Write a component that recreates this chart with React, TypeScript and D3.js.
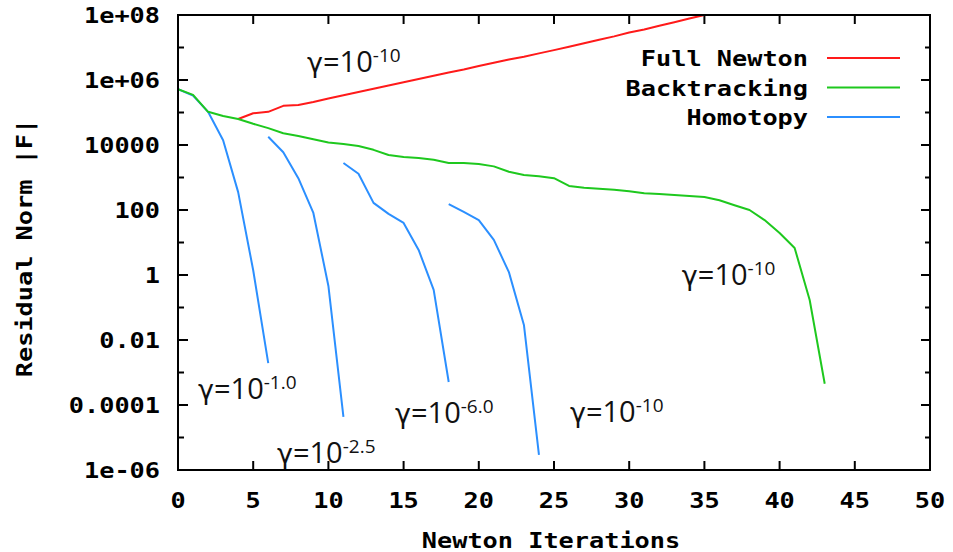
import React, { useEffect, useRef } from 'react';
import * as d3 from 'd3';

const W = 953;
const H = 552;
const plot = { left: 178, right: 930, top: 15, bottom: 470 };

// axis ticks
const xTicks = [0, 5, 10, 15, 20, 25, 30, 35, 40, 45, 50];
const yMajor = [1e-6, 1e-4, 1e-2, 1, 1e2, 1e4, 1e6, 1e8];
const yTickLabels = ['1e-06', '0.0001', '0.01', '1', '100', '10000', '1e+06', '1e+08'];
const yMinor = [1e-5, 1e-3, 1e-1, 1e1, 1e3, 1e5, 1e7];

// Full Newton, starts at iteration 4
const fullNewtonStart = 4;
const fullNewton = [
  6.3e4, 9.5e4, 1.05e5, 1.6e5, 1.7e5, 2.1e5, 2.7e5, 3.4e5, 4.3e5, 5.4e5, 6.8e5, 8.5e5,
  1.07e6, 1.35e6, 1.7e6, 2.1e6, 2.7e6, 3.4e6, 4.3e6, 5.2e6, 6.6e6, 8.3e6, 1.05e7, 1.35e7,
  1.74e7, 2.2e7, 2.9e7, 3.6e7, 4.7e7, 6.0e7, 7.8e7, 1.0e8,
];

// Backtracking, iterations 0..43
const backtrackingStart = 0;
const backtracking = [
  5.25e5, 3.5e5, 1.05e5, 7.8e4, 6.3e4, 4.5e4, 3.3e4, 2.3e4, 1.9e4, 1.5e4, 1.2e4, 1.07e4,
  9.3e3, 7.1e3, 4.9e3, 4.3e3, 4.0e3, 3.5e3, 2.8e3, 2.8e3, 2.6e3, 2.2e3, 1.5e3, 1.2e3,
  1.1e3, 950, 550, 480, 450, 420, 380, 330, 310, 290, 270, 250, 200, 140, 100, 49, 19.5,
  6.8, 0.17, 4.5e-4,
];

// Homotopy runs (one per gamma)
const homotopy1Start = 0;
const homotopy1 = [5.25e5, 3.3e5, 1.05e5, 1.4e4, 355, 1.4, 1.95e-3];
const homotopy2Start = 6;
const homotopy2 = [1.8e4, 6.0e3, 950, 81, 0.46, 4.3e-5];
const homotopy3Start = 11;
const homotopy3 = [2.8e3, 1.3e3, 166, 76, 40, 5.9, 0.35, 5.1e-4];
const homotopy4Start = 18;
const homotopy4 = [151, 87, 49, 12, 1.23, 0.029, 2.9e-6];

const legendNames = ['Full Newton', 'Backtracking', 'Homotopy'];
const colors = ['#ff1a1a', '#1ec81e', '#2b8fff'];

// gamma annotations: anchor in (iteration, residual) space
const gammaExponents = ['-10', '-10', '-1.0', '-2.5', '-6.0', '-10'];
const gammaAnchorsX = [8.58, 33.5, 1.33, 6.58, 14.43, 26.06];
const gammaAnchorsY = [1.76e6, 0.49, 1.53e-4, 1.64e-6, 2.8e-5, 3.0e-5];

const GP_FONT = '"DejaVu Sans Mono", monospace';
const CHAR_W = 15.2;

const App = () => {
  const ref = useRef(null);

  useEffect(() => {
    const svg = d3.select(ref.current);
    svg.selectAll('*').remove();

    const x = d3.scaleLinear().domain([0, 50]).range([plot.left, plot.right]);
    const y = d3.scaleLog().domain([1e-6, 1e8]).range([plot.bottom, plot.top]);

    svg.append('defs').append('clipPath').attr('id', 'plot-clip')
      .append('rect')
      .attr('x', plot.left).attr('y', plot.top - 1)
      .attr('width', plot.right - plot.left).attr('height', plot.bottom - plot.top + 1);

    const gpText = (sel, s) => sel
      .text(s)
      .attr('font-family', GP_FONT)
      .attr('font-weight', 'bold')
      .attr('font-size', 21)
      .attr('fill', '#000')
      .attr('textLength', s.length * CHAR_W)
      .attr('lengthAdjust', 'spacingAndGlyphs');

    const axes = svg.append('g').attr('stroke', '#000').attr('stroke-width', 2);

    // x ticks, bottom and top (inward)
    xTicks.slice(1, -1).forEach(t => {
      axes.append('line').attr('x1', x(t)).attr('x2', x(t)).attr('y1', plot.bottom).attr('y2', plot.bottom - 9);
      axes.append('line').attr('x1', x(t)).attr('x2', x(t)).attr('y1', plot.top).attr('y2', plot.top + 9);
    });
    // y ticks, left and right
    yMajor.slice(1, -1).forEach(t => {
      axes.append('line').attr('x1', plot.left).attr('x2', plot.left + 10).attr('y1', y(t)).attr('y2', y(t));
      axes.append('line').attr('x1', plot.right).attr('x2', plot.right - 9).attr('y1', y(t)).attr('y2', y(t));
    });
    yMinor.forEach(t => {
      axes.append('line').attr('x1', plot.left).attr('x2', plot.left + 6).attr('y1', y(t)).attr('y2', y(t));
      axes.append('line').attr('x1', plot.right).attr('x2', plot.right - 5).attr('y1', y(t)).attr('y2', y(t));
    });

    // series
    const line = d3.line().x(d => x(d[0])).y(d => y(d[1]));
    const toPts = (start, vals) => vals.map((v, i) => [start + i, v]);
    const series = [
      { pts: toPts(fullNewtonStart, fullNewton), color: colors[0] },
      { pts: toPts(homotopy1Start, homotopy1), color: colors[2] },
      { pts: toPts(homotopy2Start, homotopy2), color: colors[2] },
      { pts: toPts(homotopy3Start, homotopy3), color: colors[2] },
      { pts: toPts(homotopy4Start, homotopy4), color: colors[2] },
      { pts: toPts(backtrackingStart, backtracking), color: colors[1] },
    ];
    const lines = svg.append('g').attr('clip-path', 'url(#plot-clip)');
    series.forEach(s => {
      lines.append('path')
        .attr('d', line(s.pts))
        .attr('fill', 'none')
        .attr('stroke', s.color)
        .attr('stroke-width', 2)
        .attr('stroke-linejoin', 'round');
    });

    // border
    svg.append('rect')
      .attr('x', plot.left).attr('y', plot.top)
      .attr('width', plot.right - plot.left).attr('height', plot.bottom - plot.top)
      .attr('fill', 'none').attr('stroke', '#000').attr('stroke-width', 2);

    // tick labels
    xTicks.forEach(t => {
      svg.append('text').call(gpText, String(t))
        .attr('x', x(t)).attr('y', 508).attr('text-anchor', 'middle');
    });
    yMajor.forEach((t, i) => {
      svg.append('text').call(gpText, yTickLabels[i])
        .attr('x', 160).attr('y', y(t) + 8).attr('text-anchor', 'end');
    });

    // axis titles
    svg.append('text').call(gpText, 'Newton Iterations')
      .attr('x', 551).attr('y', 548).attr('text-anchor', 'middle');
    svg.append('text').call(gpText, 'Residual Norm |F|')
      .attr('text-anchor', 'middle')
      .attr('transform', 'translate(32,248) rotate(-90)');

    // legend
    legendNames.forEach((name, i) => {
      const ly = 58 + i * 29.5;
      svg.append('text').call(gpText, name)
        .attr('x', 808).attr('y', ly + 8).attr('text-anchor', 'end');
      svg.append('line')
        .attr('x1', 827).attr('x2', 900).attr('y1', ly).attr('y2', ly)
        .attr('stroke', colors[i]).attr('stroke-width', 2);
    });

    // gamma annotations
    gammaExponents.forEach((e, i) => {
      const t = svg.append('text')
        .attr('x', x(gammaAnchorsX[i])).attr('y', y(gammaAnchorsY[i]))
        .attr('font-family', '"Open Sans", "Noto Sans", sans-serif')
        .attr('font-size', 29)
        .attr('fill', '#111');
      t.append('tspan').attr('font-family', '"DejaVu Sans", sans-serif').attr('font-size', 27).text('\u03b3');
      t.append('tspan').text('=10');
      t.append('tspan').attr('dy', -10).attr('font-size', 19).text(e);
    });
  }, []);

  return (
    <svg
      ref={ref}
      width={W}
      height={H}
      style={{ position: 'absolute', left: 0, top: 0, background: '#fff' }}
    />
  );
};

export default App;
